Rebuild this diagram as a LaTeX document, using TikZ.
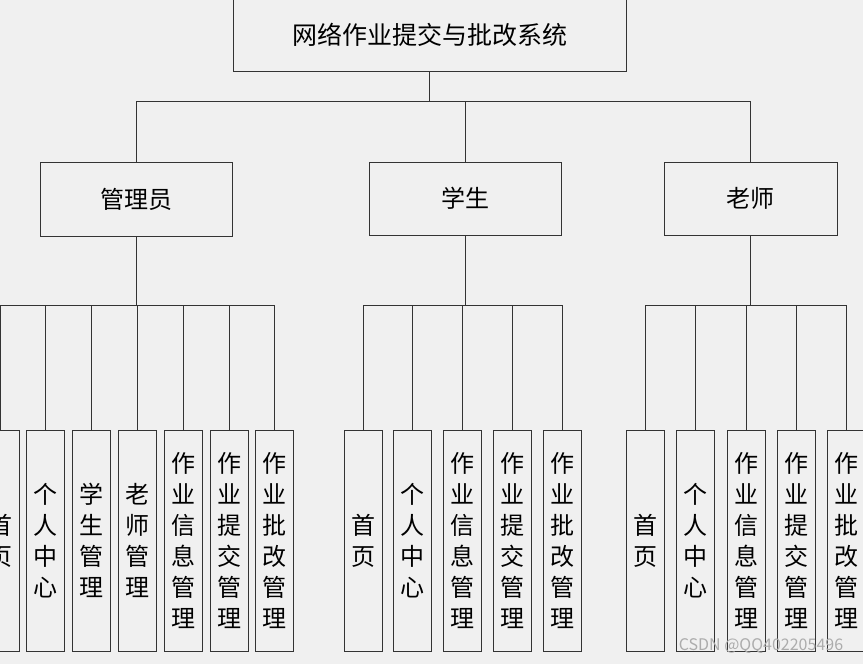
\documentclass[tikz,border=0pt]{standalone}
\usepackage{fontspec}
\setmainfont{Noto Sans CJK SC}
\definecolor{bg}{HTML}{F0F0F0}
\definecolor{edge}{HTML}{333333}

\begin{document}
\begin{tikzpicture}[x=1pt,y=-1pt,
	box/.style={draw=edge,line width=1pt,fill=bg,inner sep=0pt,font=\fontsize{24}{30}\selectfont},
	leaf/.style={box,minimum width=38pt,minimum height=221pt,align=center,font=\fontsize{24}{31}\selectfont},
	link/.style={draw=edge,line width=1pt}]

	\fill[bg] (0,0) rectangle (863,664);
	\useasboundingbox (0,0) rectangle (863,664);

	\node[box,minimum width=393pt,minimum height=73pt,font=\fontsize{25}{30}\selectfont] (root) at (429.5,34.5) {网络作业提交与批改系统};

	\node[box,minimum width=192pt,minimum height=74pt] (admin) at (136,199) {管理员};
	\node[box,minimum width=192pt,minimum height=73pt] (stu) at (465,198.5) {学生};
	\node[box,minimum width=173pt,minimum height=73pt] (tea) at (750.5,198.5) {老师};

	\foreach \kid in {admin,stu,tea}
		\draw[link] (root.south) -- ++(0,30) -| (\kid.north);

	% admin
	\foreach \lbl [count=\i] in {{首\\页},{个\\人\\中\\心},{学\\生\\管\\理},{老\\师\\管\\理},{作\\业\\信\\息\\管\\理},{作\\业\\提\\交\\管\\理},{作\\业\\批\\改\\管\\理}}{
		\node[leaf] (a\i) at ({45.8*(\i-1)},540.5) {\lbl};
		\draw[link] (admin.south) -- ++(0,68.5) -| (a\i.north);
	}

	% student
	\foreach \lbl [count=\i] in {{首\\页},{个\\人\\中\\心},{作\\业\\信\\息\\管\\理},{作\\业\\提\\交\\管\\理},{作\\业\\批\\改\\管\\理}}{
		\node[leaf] (s\i) at ({363+49.75*(\i-1)},540.5) {\lbl};
		\draw[link] (stu.south) -- ++(0,69.5) -| (s\i.north);
	}

	% teacher
	\foreach \lbl [count=\i] in {{首\\页},{个\\人\\中\\心},{作\\业\\信\\息\\管\\理},{作\\业\\提\\交\\管\\理},{作\\业\\批\\改\\管\\理}}{
		\node[leaf] (t\i) at ({645.5+50.35*(\i-1)},540.5) {\lbl};
		\draw[link] (tea.south) -- ++(0,69.5) -| (t\i.north);
	}

	\node[text=gray!65,font=\fontsize{16}{18}\selectfont] (wm) at (761,646) {CSDN @QQ402205496};
\end{tikzpicture}
\end{document}
